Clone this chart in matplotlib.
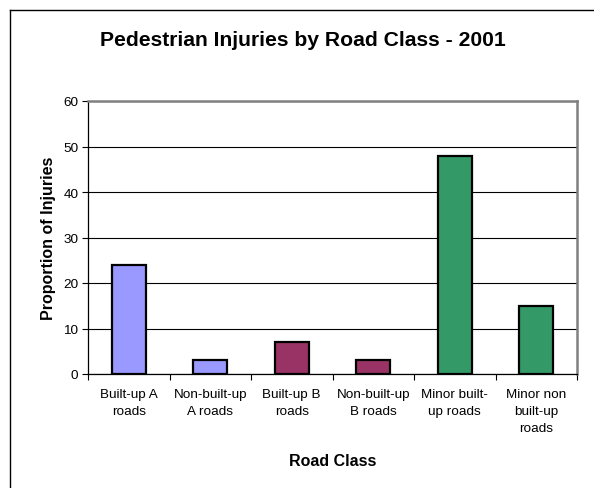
import matplotlib
matplotlib.use("Agg")
import matplotlib.pyplot as plt
from matplotlib.lines import Line2D

plt.rcParams["font.family"] = ["Liberation Sans", "DejaVu Sans"]

categories = ["Built-up A\nroads", "Non-built-up\nA roads", "Built-up B\nroads",
              "Non-built-up\nB roads", "Minor built-\nup roads", "Minor non\nbuilt-up\nroads"]
values = [24, 3, 7, 3, 48, 15]
colors = ["#9999FF", "#9999FF", "#993366", "#993366", "#339966", "#339966"]
yticks = [0, 10, 20, 30, 40, 50, 60]

W, H = 594, 489
fig = plt.figure(figsize=(W / 100, H / 100), dpi=100)

# plot area in pixels: left 88, right 577, top 102, bottom 375
ax = fig.add_axes([88 / W, 1 - 375 / H, (577 - 88) / W, (375 - 102) / H])

x = range(len(values))
ax.bar(x, values, width=0.42, color=colors, edgecolor="black", linewidth=1.6, zorder=3)

ax.set_xlim(-0.5, len(values) - 0.5)
ax.set_ylim(0, 60)
ax.set_yticks(yticks)
ax.yaxis.grid(True, color="black", linewidth=0.8, zorder=0)

ax.set_xticks(x)
ax.set_xticklabels(categories, fontsize=9.7, linespacing=1.55)
ax.set_xticks([i - 0.5 for i in range(len(values) + 1)], minor=True)
ax.tick_params(axis="x", which="major", length=0, pad=10)
ax.tick_params(axis="x", which="minor", length=4, direction="out", width=0.8)
ax.tick_params(axis="y", length=4, direction="out", width=0.8, labelsize=9.7, pad=3)

for side in ("top", "right"):
    ax.spines[side].set_color("#808080")
    ax.spines[side].set_linewidth(1.8)
for side in ("left", "bottom"):
    ax.spines[side].set_color("black")
    ax.spines[side].set_linewidth(0.9)

ax.set_xlabel("Road Class", fontsize=11.5, fontweight="bold", labelpad=14)
ax.set_ylabel("Proportion of Injuries", fontsize=11.5, fontweight="bold", labelpad=5)

fig.text(303 / W, 1 - 41 / H, "Pedestrian Injuries by Road Class - 2001",
         ha="center", va="center", fontsize=15.2, fontweight="bold")

# outer chart frame (top and left visible)
fig.add_artist(Line2D([10 / W, 1], [1 - 11 / H, 1 - 11 / H], color="black", linewidth=1.0))
fig.add_artist(Line2D([10 / W, 10 / W], [0, 1 - 11 / H], color="black", linewidth=1.0))

fig.savefig("out.png", dpi=100)
